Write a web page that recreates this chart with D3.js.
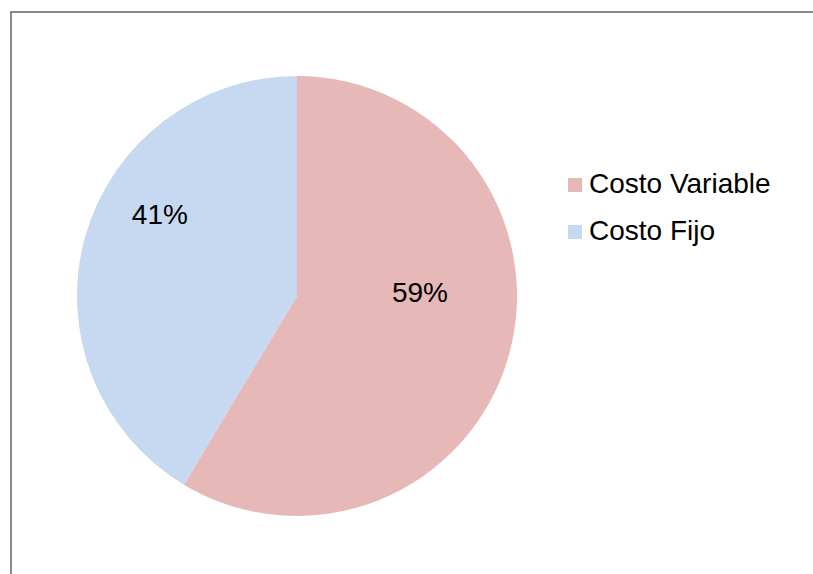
<!DOCTYPE html>
<html>
<head>
<meta charset="utf-8">
<script src="https://cdn.jsdelivr.net/npm/d3@7"></script>
<style>
  html, body { margin: 0; padding: 0; background: #fff; }
  svg { display: block; }
</style>
</head>
<body>
<svg id="chart" width="813" height="574"></svg>
<script>
const categories = ["Costo Variable", "Costo Fijo"];
const values = [58.6, 41.4];
const labels = ["59%", "41%"];
const colors = ["#E6B9B8", "#C6D9F1"];

const svg = d3.select("#chart");
const font = "Arial, 'Liberation Sans', sans-serif";

// outer chart border (extends past the window at right/bottom)
svg.append("rect")
  .attr("x", 11).attr("y", 12)
  .attr("width", 830).attr("height", 600)
  .attr("fill", "none")
  .attr("stroke", "#8a8a8a")
  .attr("stroke-width", 2);

const cx = 297, cy = 296, R = 220;
const data = categories.map((c, i) => ({ name: c, value: values[i], label: labels[i], color: colors[i] }));

const pie = d3.pie().value(d => d.value).sort(null);
const arc = d3.arc().innerRadius(0).outerRadius(R);
const arcs = pie(data);

const g = svg.append("g").attr("transform", `translate(${cx},${cy})`);
g.selectAll("path.slice").data(arcs).enter().append("path")
  .attr("class", "slice")
  .attr("d", arc)
  .attr("fill", d => d.data.color)
  .attr("stroke", "none");

// label placement (Excel best-fit style): angle & radius per slice
const labelPos = [{ a: 88, r: 123 }, { a: 301, r: 160 }];
g.selectAll("text.lbl").data(arcs).enter().append("text")
  .attr("class", "lbl")
  .attr("x", (d, i) => labelPos[i].r * Math.sin(labelPos[i].a * Math.PI / 180))
  .attr("y", (d, i) => -labelPos[i].r * Math.cos(labelPos[i].a * Math.PI / 180) + 10)
  .attr("text-anchor", "middle")
  .attr("font-family", font)
  .attr("font-size", 28)
  .attr("fill", "#000")
  .text(d => d.data.label);

// legend
const legend = svg.append("g").attr("transform", "translate(568,178)");
const items = legend.selectAll("g").data(data).enter().append("g")
  .attr("transform", (d, i) => `translate(0,${i * 47})`);
items.append("rect")
  .attr("width", 14).attr("height", 14)
  .attr("fill", d => d.color);
items.append("text")
  .attr("x", 21).attr("y", 15)
  .attr("font-family", font)
  .attr("font-size", 28)
  .attr("fill", "#000")
  .text(d => d.name);
</script>
</body>
</html>
